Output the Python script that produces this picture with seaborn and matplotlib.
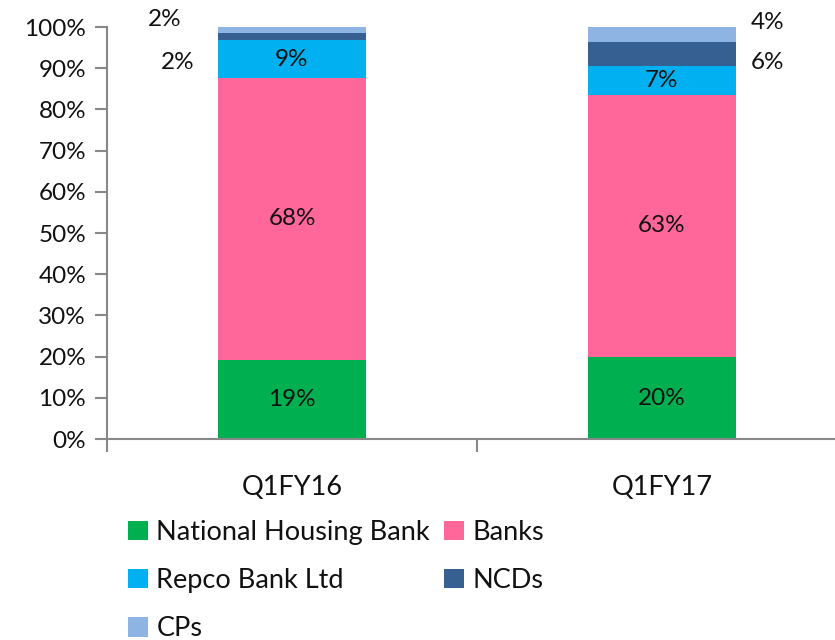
import numpy as np
import pandas as pd
import matplotlib
matplotlib.use("Agg")
import matplotlib.pyplot as plt
from matplotlib.patches import Patch
import seaborn as sns

categories = ["Q1FY16", "Q1FY17"]
series_names = ["National Housing Bank", "Banks", "Repco Bank Ltd", "NCDs", "CPs"]
nhb = [19.2, 19.9]
banks = [68.4, 63.6]
repco = [9.2, 7.0]
ncds = [1.7, 5.9]
cps = [1.5, 3.6]
labels_nhb = ["19%", "20%"]
labels_banks = ["68%", "63%"]
labels_repco = ["9%", "7%"]
labels_ncds = ["2%", "6%"]
labels_cps = ["2%", "4%"]
yticks = [0, 10, 20, 30, 40, 50, 60, 70, 80, 90, 100]

colors = ["#00B050", "#FF6699", "#00B0F0", "#376092", "#8EB4E3"]

sns.set_theme(style="white")
plt.rcParams["font.family"] = ["Lato", "DejaVu Sans"]
FS = 17.5
TXT = "#111111"

values = np.array([nhb, banks, repco, ncds, cps])
cum = np.cumsum(values, axis=0)

fig = plt.figure(figsize=(8.35, 6.4), dpi=100)
ax = fig.add_axes([107 / 835, 1 - 439 / 640, (847 - 107) / 835, (439 - 27) / 640])

# draw cumulative bars from top-most down so each lower layer overlays
for i in range(len(series_names) - 1, -1, -1):
    df = pd.DataFrame({"cat": categories, "val": cum[i]})
    sns.barplot(data=df, x="cat", y="val", color=colors[i], width=0.4,
                saturation=1, ax=ax, linewidth=0, order=categories)

ax.set_xlim(-0.5, 1.5)
ax.set_ylim(0, 100)
ax.set_yticks(yticks)
ax.set_yticklabels([f"{t}%" for t in yticks], fontsize=FS, color=TXT)
ax.set_xlabel("")
ax.set_ylabel("")
ax.tick_params(axis="both", which="both", bottom=True, left=True)
ax.tick_params(axis="x", which="major", length=0, labelsize=19.5, labelcolor=TXT, pad=26)
ax.set_xticks([-0.5, 0.5, 1.5], minor=True)
ax.tick_params(axis="x", which="minor", length=9, color="#888888", width=1.5, direction="out")
ax.tick_params(axis="y", length=9, color="#888888", width=1.5, direction="out", pad=6)
for s in ["top", "right"]:
    ax.spines[s].set_visible(False)
for s in ["left", "bottom"]:
    ax.spines[s].set_color("#888888")
    ax.spines[s].set_linewidth(1.5)

# inside labels
inside = [labels_nhb, labels_banks, labels_repco]
for i in range(3):
    for j in range(len(categories)):
        yc = cum[i][j] - values[i][j] / 2
        ax.text(j, yc, inside[i][j], ha="center", va="center", fontsize=FS, color=TXT)

# outside labels for the thin top segments
ax.text(0 - 0.31, 91.3, labels_ncds[0], ha="center", va="center", fontsize=FS, color=TXT)
ax.text(0 - 0.345, 101.7, labels_cps[0], ha="center", va="center", fontsize=FS, color=TXT)
ax.text(1 + 0.285, 91.3, labels_ncds[1], ha="center", va="center", fontsize=FS, color=TXT)
ax.text(1 + 0.285, 101.2, labels_cps[1], ha="center", va="center", fontsize=FS, color=TXT)

handles = [Patch(facecolor=c, edgecolor="none") for c in colors]
order = [0, 2, 4, 1, 3]
leg = fig.legend([handles[k] for k in order], [series_names[k] for k in order],
                 ncol=2, loc="upper left", bbox_to_anchor=(128 / 835, 1 - 520 / 640),
                 frameon=False, fontsize=19.5, handlelength=0.75, handleheight=0.75,
                 handletextpad=0.3, columnspacing=0.5, labelspacing=0.85,
                 borderaxespad=0, borderpad=0)
for t in leg.get_texts():
    t.set_color(TXT)

fig.savefig("out.png", dpi=100)
